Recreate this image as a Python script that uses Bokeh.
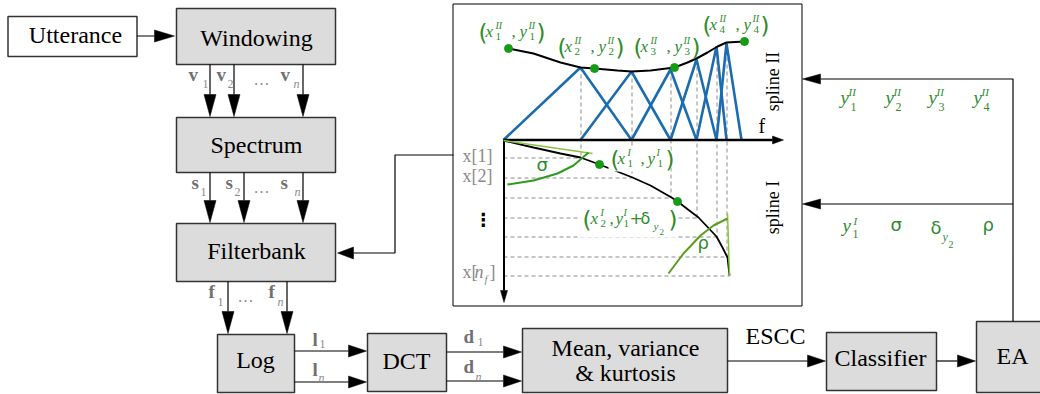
import math
from bokeh.plotting import figure
from bokeh.models import Range1d
from bokeh.embed import file_html
from bokeh.resources import INLINE
from bokeh.core.properties import value

# ---------------- data ----------------
block_names = ["Utterance", "Windowing", "Spectrum", "Filterbank", "Log", "DCT", "Classifier", "EA"]
stats_lines = ["Mean, variance", "& kurtosis"]
feature_name = "ESCC"
spline_names = ["spline II", "spline I"]
vec_v = ["1", "2", "n"]
vec_s = ["1", "2", "n"]
vec_f = ["1", "n"]
vec_l = ["1", "n"]
vec_d = ["1", "n"]

# mel-like triangular filter bank (centre frequencies, peak heights)
filter_centres = [503, 580, 631, 670, 696, 716, 726, 741]
filter_peaks = [67, 71, 69, 59, 46, 43]

# spline II (amplitude envelope) curve and its knots
spline2_x = [508, 533, 560, 580, 594, 617, 631, 650, 674, 687, 696, 707, 717, 726, 744]
spline2_y = [48, 53, 62, 67, 68, 70, 71, 70, 67, 62, 58, 52, 46, 42, 41]
knots2_x = [508, 594, 674, 744]
knots2_y = [48, 68, 67, 41]
knots2_idx = ["1", "2", "3", "4"]

# spline I (frequency warping) curve and its knots
spline1_x = [503, 533, 560, 580, 599, 632, 650, 671, 677, 698, 716, 722, 727, 729]
spline1_y = [140, 147, 153, 157, 164, 177, 185, 197, 201, 217, 236, 247, 257, 275]
knots1_x = [599, 677]
knots1_y = [164, 201]

# warped rows x[1] .. x[n_f]
rows_y = [157, 177, 197, 217, 236, 256, 275]
rows_end = [580, 631, 670, 696, 716, 726, 729]

# angle marks
sigma_arc_x = [507, 533, 557, 573, 588]
sigma_arc_y = [184, 180, 173, 165, 152]
sigma_tan_x = [503, 592]
sigma_tan_y = [140, 153]
rho_arc_x = [668, 683, 700, 713, 727]
rho_arc_y = [273, 253, 235, 225, 218]
rho_tan_x = [729, 727]
rho_tan_y = [275, 213]

# ---------------- styling ----------------
SERIF = "Liberation Serif"
SANS = "DejaVu Sans"
GREEN = "#2e8b2e"
PGREEN = "#169b16"
LGREEN = "#86c440"
BLUE = "#1c6cb0"
BOXFILL = "#dcdcdc"
BOXLINE = "#333333"
LGRAY = "#707070"
SGRAY = "#8a8a8a"
DASH = "#8c8c8c"
K_ALPHA = 0.32  # baseline correction (fraction of font size)
K_MID = 0.2

p = figure(width=1040, height=394, x_range=Range1d(0, 1040), y_range=Range1d(394, 0),
           output_backend="svg", toolbar_location=None, min_border=0,
           x_axis_location=None, y_axis_location=None)
p.grid.visible = False
p.outline_line_color = None
p.background_fill_color = "white"
p.border_fill_color = "white"


def T(x, y, s, size, color="black", font=SERIF, style="normal", align="left",
      baseline="alphabetic", angle=0.0):
    k = K_ALPHA if baseline == "alphabetic" else K_MID
    x = x - k * size * math.sin(angle)
    y = y - k * size * math.cos(angle)
    p.text(x=[x], y=[y], text=[s], text_font=value(font), text_font_size=f"{size}px",
           text_color=color, text_font_style=style, text_align=align,
           text_baseline=baseline, angle=angle)


def head(x0, y0, x1, y1, hl, hw, color="black"):
    dx, dy = x1 - x0, y1 - y0
    L = math.hypot(dx, dy)
    ux, uy = dx / L, dy / L
    bx, by = x1 - ux * hl, y1 - uy * hl
    px, py = -uy, ux
    p.patch([x1, bx + px * hw / 2, bx - px * hw / 2], [y1, by + py * hw / 2, by - py * hw / 2],
            fill_color=color, line_color=color, line_width=0.5)
    return bx, by


def arrow(xs, ys, hl=20, hw=12, lw=1.2, color="black"):
    bx, by = head(xs[-2], ys[-2], xs[-1], ys[-1], hl, hw, color)
    p.line(list(xs[:-1]) + [bx], list(ys[:-1]) + [by], line_color=color, line_width=lw)


# ---------------- blocks ----------------
boxes = [
    (7.5, 136.5, 16, 56, "white"),
    (176, 335, 8, 64, BOXFILL),
    (176, 335, 117, 172, BOXFILL),
    (176, 335, 223, 281, BOXFILL),
    (217, 294, 334, 392, BOXFILL),
    (367, 446, 333, 391, BOXFILL),
    (826, 936, 332, 390, BOXFILL),
    (976, 1050, 321, 392, BOXFILL),
]
p.quad(left=[b[0] for b in boxes], right=[b[1] for b in boxes],
       top=[b[2] for b in boxes], bottom=[b[3] for b in boxes],
       fill_color=[b[4] for b in boxes], line_color=BOXLINE, line_width=1.5)
p.quad(left=[522], right=[727], top=[328], bottom=[392], fill_color=BOXFILL,
       line_color=BOXLINE, line_width=1.5)

label_pos = [(75, 42), (256, 45), (256, 152), (256, 258), (255, 367), (406, 368),
             (880, 365), (1012, 363)]
for name, (x, y) in zip(block_names, label_pos):
    T(x, y, name, 24, align="center")
T(625, 355, stats_lines[0], 24, align="center")
T(625, 380, stats_lines[1], 24, align="center")
T(775, 343, feature_name, 24, align="center")

# ---------------- flow arrows ----------------
arrow([136.5, 174], [35.5, 35.5])
for x in [209.5, 233.5, 302.5]:
    arrow([x, x], [64, 116], hl=22)
for x in [209.5, 243.5, 302.5]:
    arrow([x, x], [172, 222], hl=22)
for x in [227.5, 286.5]:
    arrow([x, x], [281, 333], hl=22)
for y in [350.5, 381.5]:
    arrow([294, 366], [y, y], hl=18)
for y in [351.5, 380.5]:
    arrow([446, 521], [y, y], hl=18)
arrow([727, 825], [360.5, 360.5], hl=18)
arrow([936, 975], [360.5, 360.5], hl=18)
arrow([1012.5, 1012.5, 802], [321, 78.5, 78.5], hl=18, hw=10)
arrow([1012.5, 802], [203.5, 203.5], hl=18, hw=10)
arrow([453, 394.5, 394.5, 337], [154.5, 154.5, 252.5, 252.5], hl=16)

# ---------------- vector labels ----------------
def vec(x, yb, letter, idx, dx=10, dsub=7):
    T(x, yb, letter, 19, color=LGRAY, style="bold")
    T(x + dx, yb + dsub, idx, 12, color=SGRAY,
      style="italic" if idx == "n" else "normal")

for x, idx, dx in zip([188, 216, 280], vec_v, [14, 11, 13]):
    vec(x, 80, "v", idx, dx=dx)
T(253, 84, "…", 16, color=SGRAY)
for x, idx, dx in zip([191, 225, 280], vec_s, [9, 9, 14]):
    vec(x, 188, "s", idx, dx=dx)
T(253, 192, "…", 16, color=SGRAY)
for x, idx in zip([208, 268], vec_f):
    vec(x, 297, "f", idx, dx=9, dsub=8)
T(237, 301, "…", 16, color=SGRAY)
vec(312, 345, "l", vec_l[0], dx=7, dsub=2)
vec(312, 375, "l", vec_l[1], dx=6, dsub=6)
vec(463, 342, "d", vec_d[0], dx=14, dsub=3)
vec(463, 372, "d", vec_d[1], dx=12, dsub=8)

# ---------------- spline panel ----------------
p.quad(left=[452.5], right=[801.5], top=[3.5], bottom=[305.5], fill_color=None,
       line_color="black", line_width=1)

# dashed guides
for i in range(1, 7):
    xc = filter_centres[i] + 0.5
    p.line([xc, xc], [filter_peaks[i - 1], rows_y[i - 1]], line_color=DASH,
           line_width=1, line_dash="4 3")
for y, xe in zip(rows_y, rows_end):
    p.line([503, xe], [y + 0.5, y + 0.5], line_color=DASH, line_width=1, line_dash="4 3")

# filter bank triangles
tri_x, tri_y = [], []
for i in range(1, 7):
    tri_x.append([filter_centres[i - 1], filter_centres[i], filter_centres[i + 1]])
    tri_y.append([139.5, filter_peaks[i - 1], 139.5])
p.multi_line(tri_x, tri_y, line_color=BLUE, line_width=2.6)

# axes
arrow([503, 783], [139.5, 139.5], hl=11, hw=8, lw=2.6)
arrow([503.5, 503.5], [139, 302], hl=12, hw=7, lw=2)
T(758, 132, "f", 20)

# splines
p.line(spline2_x, spline2_y, line_color="black", line_width=2)
p.line(spline1_x, spline1_y, line_color="black", line_width=1.8)

# angle marks
p.line(sigma_tan_x, sigma_tan_y, line_color=LGREEN, line_width=1.5)
p.line(sigma_arc_x, sigma_arc_y, line_color="#2f9a1f", line_width=2)
p.line(rho_tan_x, rho_tan_y, line_color=LGREEN, line_width=1.5)
p.line(rho_arc_x, rho_arc_y, line_color="#5a9e1e", line_width=2)
T(536, 170, "σ", 18, color=GREEN, font=SANS)
T(697, 248, "ρ", 18, color=GREEN, font=SANS)

# white backgrounds behind the lower knot labels
p.quad(left=[608, 580], right=[670, 676], top=[146, 207], bottom=[171, 237],
       fill_color="white", line_color=None)

# knots
p.scatter(knots2_x, knots2_y, size=8, color=PGREEN)
p.scatter(knots1_x, knots1_y, size=8, color=PGREEN)


def pair(x0, yb, k, S, comma=33, ypos=41, sup2=50, close=58):
    T(x0, yb + 4, "(", 23, color=GREEN, font=SANS)
    T(x0 + 7, yb, "x", 17, color=GREEN, style="italic")
    T(x0 + 17, yb - 8, S, 10, color=GREEN, style="italic")
    T(x0 + 17, yb + 4, k, 11, color=GREEN)
    T(x0 + comma, yb, ",", 17, color=GREEN)
    T(x0 + ypos, yb, "y", 17, color=GREEN, style="italic")
    T(x0 + sup2, yb - 8, S, 10, color=GREEN, style="italic")
    T(x0 + sup2 + 1, yb + 4, k, 11, color=GREEN)
    T(x0 + close, yb + 4, ")", 23, color=GREEN, font=SANS)


for x0, yb, k in zip([478, 557, 633, 702], [36, 51, 51, 29], knots2_idx):
    pair(x0, yb, k, "II")
pair(610, 163, "1", "I", comma=30, ypos=37, sup2=46, close=55)

# (x2^I , y1^I + delta_y2)
x0, yb = 582, 223
T(x0, yb + 4, "(", 23, color=GREEN, font=SANS)
T(x0 + 8, yb, "x", 17, color=GREEN, style="italic")
T(x0 + 18, yb - 8, "I", 10, color=GREEN, style="italic")
T(x0 + 18, yb + 4, "2", 11, color=GREEN)
T(x0 + 27, yb, ",", 17, color=GREEN)
T(x0 + 33, yb, "y", 17, color=GREEN, style="italic")
T(x0 + 41, yb - 8, "I", 10, color=GREEN, style="italic")
T(x0 + 41, yb + 4, "1", 11, color=GREEN)
T(x0 + 47, yb, "+", 16, color=GREEN, font=SANS)
T(x0 + 58, yb, "δ", 16, color=GREEN, font=SANS)
T(x0 + 71, yb + 6, "y", 11, color=GREEN, style="italic")
T(x0 + 77, yb + 11, "2", 9, color=GREEN)
T(x0 + 86, yb + 4, ")", 23, color=GREEN, font=SANS)

# warped row labels
T(462, 161, "x[1]", 18, color=SGRAY)
T(462, 181, "x[2]", 18, color=SGRAY)
T(483, 223, "⋮", 18, font=SANS, style="bold", align="center", baseline="middle")
T(462, 277, "x[", 18, color=SGRAY)
T(474, 277, "n", 18, color=SGRAY, style="italic")
T(484, 282, "f", 11, color=SGRAY, style="italic")
T(489, 277, "]", 18, color=SGRAY)

# spline captions
T(776, 81, spline_names[0], 18, align="center", baseline="middle", angle=math.pi / 2)
T(776, 207, spline_names[1], 18, align="center", baseline="middle", angle=math.pi / 2)

# parameter lists (EA genome)
for x, k in zip([840, 885, 928, 973], knots2_idx):
    T(x, 103, "y", 19, color=GREEN, style="italic")
    T(x + 8, 95, "II", 11, color=GREEN, style="italic")
    T(x + 10, 110, k, 12, color=GREEN)
T(842, 231, "y", 19, color=GREEN, style="italic")
T(853, 224, "I", 11, color=GREEN, style="italic")
T(852, 237, "1", 12, color=GREEN)
T(890, 230, "σ", 18, color=GREEN, font=SANS)
T(930, 233, "δ", 18, color=GREEN, font=SANS)
T(942, 240, "y", 12, color=GREEN, style="italic")
T(948, 247, "2", 10, color=GREEN)
T(982, 230, "ρ", 18, color=GREEN, font=SANS)

open("out.html", "w").write(file_html(p, INLINE))
